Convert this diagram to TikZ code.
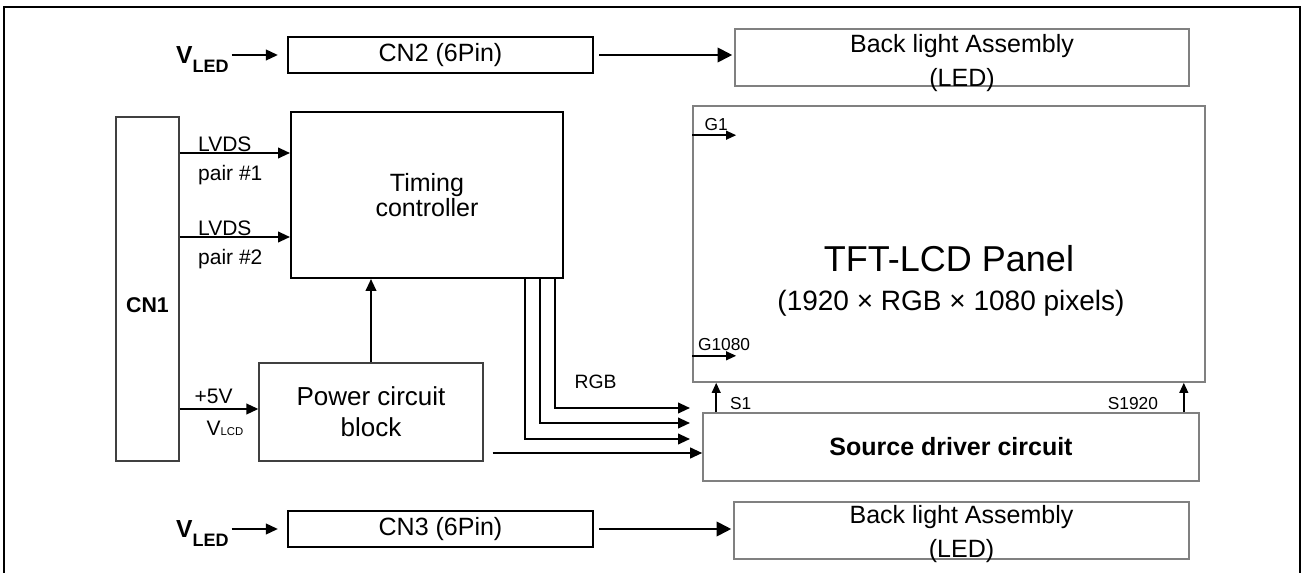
\documentclass[tikz,border=0pt]{standalone}
\usepackage{fontspec}
\setmainfont{Liberation Sans}
\usepackage{tikz}
\usetikzlibrary{arrows.meta, positioning}
\definecolor{lineGray}{HTML}{808080}
\definecolor{edgeDark}{HTML}{404040}

\begin{document}
\begin{tikzpicture}[x=0.75pt, y=-0.75pt,
        conn/.style={-{Triangle[length=9pt,width=8pt]}, line width=1.45pt},
        bigconn/.style={-{Triangle[length=11pt,width=11pt]}, line width=1.45pt},
        pin/.style={-{Triangle[length=7.5pt,width=6.5pt]}, line width=1.3pt},
        cnbox/.style={draw, line width=1.7pt, minimum width=228.75pt, minimum height=27pt,
            inner sep=0pt, font=\fontsize{18.75}{22}\selectfont},
        blbox/.style={draw=lineGray, line width=1.2pt, minimum width=340.5pt, minimum height=42.75pt, inner sep=0pt},
        bltxt/.style={align=center, inner sep=0pt, font=\fontsize{18.75}{25.5}\selectfont},
        blk/.style={draw=edgeDark, line width=1pt, inner sep=0pt, align=center},
        vled/.style={inner sep=0pt, font=\bfseries\fontsize{18.5}{18.5}\selectfont},
        lbl/.style={inner sep=0pt, font=\fontsize{15.75}{18}\selectfont},
        pinlbl/.style={inner sep=0pt, font=\fontsize{13}{15}\selectfont}
    ]
        \useasboundingbox (0,0) rectangle (1306,573);
        \draw[line width=1.5pt] (4,580) -- (4,7) -- (1300,7) -- (1300,580);

        % backlight, top
        \node[cnbox] (cnA) at (440.5,55) {CN2 (6Pin)};
        \node[vled, left=43.5pt of cnA, yshift=-3.3pt] (vledA) {V\raisebox{-6.75pt}{\fontsize{13.5}{13.5}\selectfont LED}};
        \node[blbox] (blA) at (962,57.5) {};
        \node[bltxt] (blAtxt) at ([yshift=-3.9pt]blA) {Back light Assembly\\(LED)};
        \draw[conn, shorten <=2pt, shorten >=6.75pt] (vledA.east |- cnA.west) -- (cnA.west);
        \draw[bigconn, shorten <=3.75pt, shorten >=1.5pt] (cnA.east) -- (cnA.east -| blA.west);

        % interface and timing
        \node[blk, minimum width=47.25pt, minimum height=258pt] (cn1) at (147.5,289) {};
        \node[font=\bfseries\fontsize{16}{16}\selectfont, inner sep=0pt] (cn1txt) at ([yshift=-12pt]cn1) {CN1};
        \node[blk, draw=black, line width=1.5pt, minimum width=204pt, minimum height=124.5pt,
            font=\fontsize{18.75}{18.75}\selectfont] (tcon) at (427,195) {Timing\\controller};
        \node[blk, minimum width=168pt, minimum height=73.5pt,
            font=\fontsize{19.5}{23.25}\selectfont] (pwr) at (371,412) {Power circuit\\block};

        \coordinate (lvdsA) at ([yshift=31.5pt]tcon.west);
        \coordinate (lvdsB) at ([yshift=-31.5pt]tcon.west);
        \coordinate (pwrIn) at ([yshift=2.25pt]pwr.west);
        \draw[conn] (cn1.east |- lvdsA) -- node[lbl, above, xshift=-7.5pt]{LVDS}
            node[lbl, below=8.5pt, xshift=-3.4pt]{pair \#1} (lvdsA);
        \draw[conn] (cn1.east |- lvdsB) -- node[lbl, above, xshift=-7.5pt]{LVDS}
            node[lbl, below=8.5pt, xshift=-3.4pt]{pair \#2} (lvdsB);
        \draw[conn] (cn1.east |- pwrIn) -- node[lbl, above=3pt, xshift=-4pt]{+5V}
            node[lbl, below=8pt, xshift=4.5pt]{V{\fontsize{8.5}{8.5}\selectfont LCD}} (pwrIn);
        \draw[conn] (pwr.north) -- (pwr.north |- tcon.south);

        % panel and source driver
        \node[blbox, minimum width=384pt, minimum height=207pt] (panel) at (949,244) {};
        \node[anchor=base, inner sep=0pt, font=\fontsize{27}{27}\selectfont] (tftTitle) at (949,272) {TFT-LCD Panel};
        \node[anchor=base, inner sep=0pt, font=\fontsize{21}{21}\selectfont] (tftSub) at (951,311) {(1920 × RGB × 1080 pixels)};
        \node[blbox, minimum width=372pt, minimum height=51pt,
            font=\bfseries\fontsize{18.75}{18.75}\selectfont] (src) at (951,447) {Source driver circuit};

        \coordinate (rgbA) at (690,408);
        \coordinate (rgbB) at (690,423);
        \coordinate (rgbC) at (690,439);
        \coordinate (pwrOut) at ([xshift=6.75pt, yshift=-30.75pt]pwr.east);
        \draw[conn] ([xshift=96pt]tcon.south) |- (rgbA);
        \draw[conn] ([xshift=84.75pt]tcon.south) |- (rgbB);
        \draw[conn] ([xshift=73.5pt]tcon.south) |- (rgbC);
        \node[anchor=base, inner sep=0pt, font=\fontsize{14.5}{16}\selectfont] (rgb) at (595.5,388) {RGB};
        \draw[conn] (pwrOut) -- (pwrOut -| src.west);

        \coordinate (g1) at ([yshift=-22.5pt]panel.north west);
        \coordinate (g1End) at ([xshift=33pt]g1);
        \coordinate (gN) at ([yshift=20.25pt]panel.south west);
        \coordinate (gNEnd) at ([xshift=33pt]gN);
        \coordinate (s1Top) at ([xshift=18pt]panel.south west);
        \coordinate (sNTop) at ([xshift=-16.5pt]panel.south east);
        \draw[pin] (g1) -- node[pinlbl, above=3pt, xshift=1.5pt]{G1} (g1End);
        \draw[pin] (gN) -- node[pinlbl, pos=0, anchor=base west, xshift=3.75pt, yshift=3.75pt]{G1080} (gNEnd);
        \draw[pin] (s1Top |- src.north) -- node[pinlbl, pos=0, anchor=base west, xshift=9.75pt, yshift=2.25pt]{S1} (s1Top);
        \draw[pin] (sNTop |- src.north) -- node[pinlbl, pos=0, anchor=base east, xshift=-18.75pt, yshift=2.25pt]{S1920} (sNTop);

        % backlight, bottom
        \node[cnbox] (cnB) at (440.5,529) {CN3 (6Pin)};
        \node[vled, left=43.5pt of cnB, yshift=-3.3pt] (vledB) {V\raisebox{-6.75pt}{\fontsize{13.5}{13.5}\selectfont LED}};
        \node[blbox, minimum width=341.25pt] (blB) at (961.5,530.5) {};
        \node[bltxt] (blBtxt) at ([yshift=-2.4pt]blB) {Back light Assembly\\(LED)};
        \draw[conn, shorten <=2pt, shorten >=6.75pt] (vledB.east |- cnB.west) -- (cnB.west);
        \draw[bigconn, shorten <=3.75pt, shorten >=1.5pt] (cnB.east) -- (cnB.east -| blB.west);
    \end{tikzpicture}
\end{document}
